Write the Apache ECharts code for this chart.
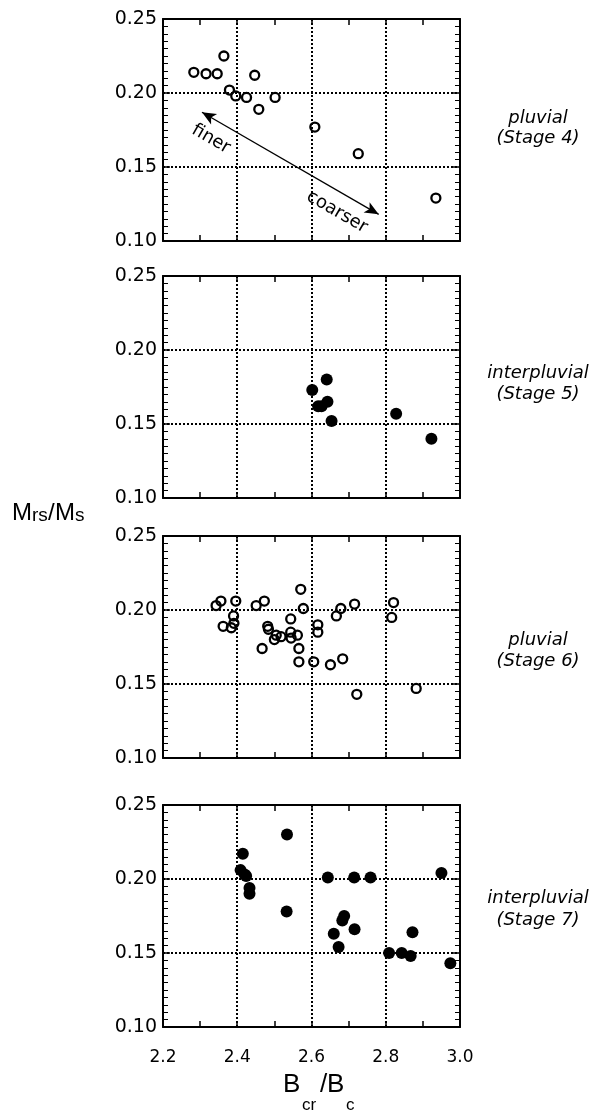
<!DOCTYPE html>
<html>
<head>
    <meta charset="utf-8">
    <title>Mrs/Ms vs Bcr/Bc</title>
    <script src="https://cdn.jsdelivr.net/npm/echarts@6/dist/echarts.min.js"></script>
    <style>
        html, body { margin: 0; padding: 0; background: #fff; }
        #main { width: 592px; height: 1113px; }
    </style>
</head>
<body>
    <div id="main"></div>
    <script>
        // tick labels
        var xTicks = [2.2, 2.4, 2.6, 2.8, 3.0];
        var yTicks = [0.10, 0.15, 0.20, 0.25];

        // [Bcr/Bc, Mrs/Ms]
        var stage4 = [
            [2.283, 0.214], [2.316, 0.213], [2.346, 0.213], [2.364, 0.225],
            [2.379, 0.202], [2.396, 0.198], [2.425, 0.197], [2.447, 0.212],
            [2.458, 0.189], [2.502, 0.197], [2.609, 0.177], [2.726, 0.159],
            [2.935, 0.129]
        ];
        var stage5 = [
            [2.602, 0.173], [2.641, 0.180], [2.618, 0.162], [2.627, 0.162],
            [2.643, 0.165], [2.654, 0.152], [2.828, 0.157], [2.923, 0.140]
        ];
        var stage6 = [
            [2.343, 0.203], [2.356, 0.206], [2.396, 0.206], [2.390, 0.196],
            [2.391, 0.191], [2.362, 0.189], [2.384, 0.188], [2.451, 0.203],
            [2.473, 0.206], [2.467, 0.174], [2.482, 0.189], [2.484, 0.187],
            [2.500, 0.180], [2.505, 0.183], [2.518, 0.182], [2.544, 0.194],
            [2.544, 0.185], [2.545, 0.181], [2.562, 0.183], [2.571, 0.214],
            [2.578, 0.201], [2.566, 0.174], [2.566, 0.165], [2.606, 0.165],
            [2.617, 0.190], [2.617, 0.185], [2.651, 0.163], [2.667, 0.196],
            [2.679, 0.201], [2.684, 0.167], [2.716, 0.204], [2.722, 0.143],
            [2.816, 0.195], [2.821, 0.205], [2.882, 0.147]
        ];
        var stage7 = [
            [2.534, 0.230], [2.415, 0.217], [2.409, 0.206], [2.420, 0.203],
            [2.424, 0.202], [2.433, 0.194], [2.433, 0.190], [2.533, 0.178],
            [2.644, 0.201], [2.715, 0.201], [2.759, 0.201], [2.660, 0.163],
            [2.673, 0.154], [2.683, 0.172], [2.688, 0.175], [2.716, 0.166],
            [2.809, 0.150], [2.843, 0.150], [2.867, 0.148], [2.872, 0.164],
            [2.950, 0.204], [2.974, 0.143]
        ];
        var panels = [stage4, stage5, stage6, stage7];
        var filled = [false, true, false, true];
        var periods = ['pluvial', 'interpluvial', 'pluvial', 'interpluvial'];
        var stages = ['(Stage 4)', '(Stage 5)', '(Stage 6)', '(Stage 7)'];

        // finer <-> coarser arrow, in data units of the top panel
        var arrowEnds = [[2.305, 0.187], [2.781, 0.118]];

        var tops = [19, 276, 536, 805];
        var labelY = [[118, 138], [373, 394], [640, 661], [898, 920]];
        var tickFont = 'DejaVu Sans';
        var titleFont = 'Liberation Sans';
        var black = '#000';

        var grids = [], xAxes = [], yAxes = [], series = [];
        var dotted = { color: black, width: 2, type: [2, 2] };

        function xAxis(i, pos) {
            return {
                gridIndex: i, type: 'value', position: pos,
                min: xTicks[0], max: xTicks[xTicks.length - 1], interval: 0.2,
                axisLine: { show: true, onZero: false, lineStyle: { color: black, width: 2 } },
                axisTick: { show: true, inside: true, length: 6, lineStyle: { color: black, width: 1.5 } },
                minorTick: { show: true, splitNumber: 2, length: 6, lineStyle: { color: black, width: 1.5 } },
                splitLine: { show: pos === 'bottom', lineStyle: dotted },
                axisLabel: {
                    show: pos === 'bottom' && i === 3, color: black, fontFamily: tickFont,
                    fontSize: 17, margin: 22,
                    formatter: function (v) { return v.toFixed(1); }
                }
            };
        }
        function yAxis(i, pos) {
            return {
                gridIndex: i, type: 'value', position: pos,
                min: yTicks[0], max: yTicks[yTicks.length - 1], interval: 0.05,
                axisLine: { show: true, onZero: false, lineStyle: { color: black, width: 2 } },
                axisTick: { show: true, inside: true, length: 7, lineStyle: { color: black, width: 1.5 } },
                minorTick: { show: true, splitNumber: 10, length: 5, lineStyle: { color: black, width: 1 } },
                splitLine: { show: pos === 'left', lineStyle: dotted },
                axisLabel: {
                    show: pos === 'left', color: black, fontFamily: tickFont,
                    fontSize: 19, margin: 6,
                    formatter: function (v) { return v.toFixed(2); }
                }
            };
        }

        for (var i = 0; i < 4; i++) {
            grids.push({ left: 163, width: 297, top: tops[i], height: 222 });
            xAxes.push(xAxis(i, 'bottom'));
            yAxes.push(yAxis(i, 'left'));
        }
        for (var j = 0; j < 4; j++) {
            xAxes.push(xAxis(j, 'top'));
            yAxes.push(yAxis(j, 'right'));
        }

        panels.forEach(function (pts, k) {
            var s = {
                type: 'scatter', xAxisIndex: k, yAxisIndex: k, data: pts,
                symbol: 'circle', z: 5,
                symbolSize: filled[k] ? 12 : 9,
                itemStyle: filled[k]
                    ? { color: black, opacity: 1 }
                    : { color: 'rgba(0,0,0,0)', borderColor: black, borderWidth: 2.3, opacity: 1 },
                emphasis: { disabled: true }
            };
            if (k === 0) {
                s.markLine = {
                    silent: true, animation: false,
                    symbol: ['arrow', 'arrow'], symbolSize: [9, 14],
                    lineStyle: { color: black, width: 1.3, type: 'solid', opacity: 1 },
                    label: { show: false },
                    emphasis: { disabled: true },
                    data: [[{ coord: arrowEnds[0] }, { coord: arrowEnds[1] }]]
                };
            }
            series.push(s);
        });

        function txt(t, x, y, size, family, opts) {
            opts = opts || {};
            return {
                type: 'text', x: x, y: y, silent: true, rotation: opts.rotation || 0,
                style: {
                    text: t, fill: black, fontSize: size, fontFamily: family,
                    fontStyle: opts.italic ? 'italic' : 'normal',
                    textAlign: opts.align || 'left', textVerticalAlign: 'middle'
                }
            };
        }

        var graphics = [];
        periods.forEach(function (p, k) {
            graphics.push(txt(p, 538, labelY[k][0], 18, tickFont, { italic: true, align: 'center' }));
            graphics.push(txt(stages[k], 538, labelY[k][1], 18, tickFont, { italic: true, align: 'center' }));
        });

        // arrow captions
        graphics.push(txt('finer', 211, 139, 18, tickFont, { align: 'center', rotation: -Math.PI / 6 }));
        graphics.push(txt('coarser', 337, 212, 18, tickFont, { align: 'center', rotation: -Math.PI / 6 }));

        // axis titles with subscripts
        graphics.push(txt('M', 12, 513, 24, titleFont));
        graphics.push(txt('rs', 32, 516, 19, titleFont));
        graphics.push(txt('/', 48, 513, 24, titleFont));
        graphics.push(txt('M', 55, 513, 24, titleFont));
        graphics.push(txt('s', 75, 516, 19, titleFont));

        graphics.push(txt('B', 283, 1085, 26, titleFont));
        graphics.push(txt('cr', 302, 1105, 17, titleFont));
        graphics.push(txt('/', 320, 1085, 26, titleFont));
        graphics.push(txt('B', 327, 1085, 26, titleFont));
        graphics.push(txt('c', 346, 1105, 17, titleFont));

        var myChart = echarts.init(document.getElementById('main'));
        myChart.setOption({
            animation: false,
            backgroundColor: '#fff',
            grid: grids,
            xAxis: xAxes,
            yAxis: yAxes,
            series: series,
            graphic: graphics
        });
    </script>
</body>
</html>
